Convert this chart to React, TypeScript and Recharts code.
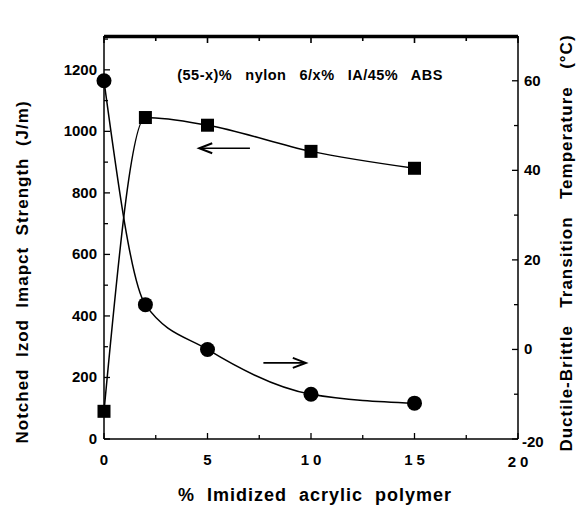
import React from 'react';
import { ComposedChart, Line, XAxis, YAxis, ReferenceLine } from 'recharts';

// ---- data ----
const xValues = [0, 2, 5, 10, 15];
const izodStrength = [90, 1045, 1020, 935, 880];
const transitionTemp = [60, 10, 0, -10, -12];

const xTicks = [0, 2.5, 5, 7.5, 10, 12.5, 15, 17.5, 20];
const xMajor = [0, 5, 10, 15, 20];
const leftTicks = [0, 100, 200, 300, 400, 500, 600, 700, 800, 900, 1000, 1100, 1200, 1300];
const leftMajor = [0, 200, 400, 600, 800, 1000, 1200];
const rightTicks = [-20, -10, 0, 10, 20, 30, 40, 50, 60, 70];
const rightMajor = [-20, 0, 20, 40, 60];
const frameTop = 1306;

const leftArrow = [{ x: 7.05, y: 945 }, { x: 4.6, y: 945 }];
const rightArrow = [{ x: 7.7, y: -3 }, { x: 9.75, y: -3 }];

const title = '(55-x)%  nylon  6/x%  IA/45%  ABS';
const xLabel = '%  Imidized  acrylic  polymer';
const leftLabel = 'Notched  Izod  Imapct  Strength  (J/m)';
const rightLabel = 'Ductile-Brittle  Transition  Temperature  (°C)';

const data = xValues.map((x, i) => ({ x, izod: izodStrength[i], temp: transitionTemp[i] }));

const FONT = '"Liberation Sans", Arial, sans-serif';
const INK = '#000';

const BottomTick = (p: any) => {
  const v = p.payload.value;
  const major = xMajor.includes(v);
  return (
    <g>
      <line x1={p.x} y1={p.y} x2={p.x} y2={p.y - (major ? 6 : 4)} stroke={INK} strokeWidth={1.3} />
      {major && (
        <text x={p.x + (v >= 10 ? 2 : 0)} y={p.y + (v === 20 ? 28 : 26)} textAnchor="middle" fontFamily={FONT} fontWeight="bold" fontSize={15}
          letterSpacing={v >= 10 ? 4 : 0} fill={INK}>{v}</text>
      )}
    </g>
  );
};

const TopTick = (p: any) => {
  const v = p.payload.value;
  const major = xMajor.includes(v);
  return <line x1={p.x} y1={p.y} x2={p.x} y2={p.y + (major ? 7 : 5)} stroke={INK} strokeWidth={1.6} />;
};

const LeftTick = (p: any) => {
  const v = p.payload.value;
  const major = leftMajor.includes(v);
  return (
    <g>
      <line x1={p.x} y1={p.y} x2={p.x + (major ? 6 : 4)} y2={p.y} stroke={INK} strokeWidth={1.3} />
      {major && (
        <text x={p.x - 7} y={p.y + 5} textAnchor="end" fontFamily={FONT} fontWeight="bold" fontSize={15} fill={INK}>{v}</text>
      )}
    </g>
  );
};

const RightTick = (p: any) => {
  const v = p.payload.value;
  const major = rightMajor.includes(v);
  return (
    <g>
      <line x1={p.x} y1={p.y} x2={p.x - (major ? 6 : 4)} y2={p.y} stroke={INK} strokeWidth={1.3} />
      {major && (
        <text x={p.x + (v < 0 ? 4 : 6)} y={p.y + (v === -20 ? 8 : 5)} textAnchor="start" fontFamily={FONT} fontWeight="bold" fontSize={15} fill={INK}>{v}</text>
      )}
    </g>
  );
};

const SquareDot = (p: any) => {
  if (p.cx == null || p.cy == null) return null;
  return <rect key={`s${p.index}`} x={p.cx - 6.5} y={p.cy - 6.5} width={13} height={13} fill={INK} />;
};

const CircleDot = (p: any) => {
  if (p.cx == null || p.cy == null) return null;
  return <circle key={`c${p.index}`} cx={p.cx} cy={p.cy} r={7.5} fill={INK} />;
};

const arrowShape = (p: any) => {
  const { x1, y1, x2, y2 } = p;
  const dir = x2 > x1 ? 1 : -1;
  return (
    <g>
      <line x1={x1} y1={y1} x2={x2} y2={y2} stroke={INK} strokeWidth={1.6} />
      <path d={`M ${x2 - dir * 13} ${y2 - 5} L ${x2} ${y2} L ${x2 - dir * 13} ${y2 + 5}`} fill="none" stroke={INK} strokeWidth={2} />
    </g>
  );
};

const txt = { fontFamily: FONT, fontWeight: 'bold' as const, fill: INK, whiteSpace: 'pre' as const };

const TitleLabel = () => (
  <text x={310} y={80} textAnchor="middle" fontSize={14.5} letterSpacing={0.5} wordSpacing={2} style={txt}>{title}</text>
);
const XTitle = () => (
  <text x={315} y={501} textAnchor="middle" fontSize={18} letterSpacing={1} style={txt}>{xLabel}</text>
);
const LeftTitle = () => (
  <text x={28} y={272} textAnchor="middle" fontSize={17} letterSpacing={1} transform="rotate(-90 28 272)" style={txt}>{leftLabel}</text>
);
const RightTitle = () => (
  <text x={572} y={243} textAnchor="middle" fontSize={17} letterSpacing={1} wordSpacing={3} transform="rotate(-90 572 243)" style={txt}>{rightLabel}</text>
);

export default function App() {
  return (
    <div style={{ position: 'absolute', left: 0, top: 0, width: 576, height: 507, background: '#fff' }}>
      <ComposedChart width={576} height={507} data={data} margin={{ top: 20, right: 0, bottom: 0, left: 0 }}>
        <XAxis xAxisId="bottom" dataKey="x" type="number" domain={[0, 20]} ticks={xTicks} height={68}
          tickSize={0} tickMargin={0} tickLine={false} tick={BottomTick} axisLine={{ stroke: INK, strokeWidth: 1.5 }}
          label={XTitle} />
        <XAxis xAxisId="top" orientation="top" dataKey="x" type="number" domain={[0, 20]} ticks={xTicks} height={16}
          tickSize={0} tickMargin={0} tickLine={false} tick={TopTick}
          axisLine={{ stroke: INK, strokeWidth: 2.5 }} label={TitleLabel} />
        <YAxis yAxisId="left" orientation="left" type="number" domain={[0, 1310]} ticks={leftTicks} width={104}
          tickSize={0} tickMargin={0} tickLine={false} tick={LeftTick} axisLine={{ stroke: INK, strokeWidth: 1.5 }}
          label={LeftTitle} />
        <YAxis yAxisId="right" orientation="right" type="number" domain={[-20, 70]} ticks={rightTicks} width={58}
          tickSize={0} tickMargin={0} tickLine={false} tick={RightTick} axisLine={{ stroke: INK, strokeWidth: 1.5 }}
          label={RightTitle} />
        <ReferenceLine xAxisId="bottom" yAxisId="left" y={frameTop} stroke={INK} strokeWidth={2} ifOverflow="visible" />
        <Line xAxisId="top" yAxisId="left" dataKey="izod" type="monotone" stroke="transparent" strokeWidth={0}
          dot={false} activeDot={false} legendType="none" isAnimationActive={false} />
        <Line xAxisId="bottom" yAxisId="left" dataKey="izod" type="monotone" stroke={INK} strokeWidth={1.5}
          dot={SquareDot} activeDot={false} isAnimationActive={false} />
        <Line xAxisId="bottom" yAxisId="right" dataKey="temp" type="monotone" stroke={INK} strokeWidth={1.5}
          dot={CircleDot} activeDot={false} isAnimationActive={false} />
        <ReferenceLine xAxisId="bottom" yAxisId="left" segment={leftArrow} shape={arrowShape} />
        <ReferenceLine xAxisId="bottom" yAxisId="right" segment={rightArrow} shape={arrowShape} />
      </ComposedChart>
    </div>
  );
}
